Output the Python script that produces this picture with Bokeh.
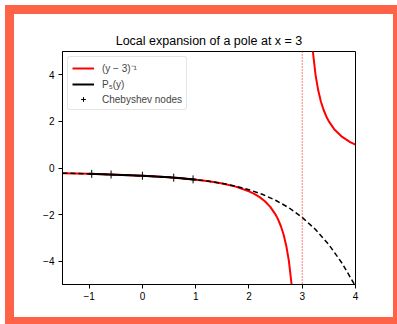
from bokeh.plotting import figure
from bokeh.models import Range1d, FixedTicker, Span, Legend, LegendItem
from bokeh.embed import file_html
from bokeh.resources import INLINE

# ---- data ----
pole_left_x = [-1.5, -1.0, -0.5, 0.0, 0.5, 1.0, 1.25, 1.5, 1.75, 2.0, 2.1, 2.2, 2.3, 2.4, 2.5,
               2.55, 2.6, 2.65, 2.7, 2.75, 2.8, 2.85]
pole_left_y = [-0.222, -0.25, -0.286, -0.333, -0.4, -0.5, -0.571, -0.667, -0.8, -1.0, -1.111,
               -1.25, -1.429, -1.667, -2.0, -2.222, -2.5, -2.857, -3.333, -4.0, -5.0, -6.667]
pole_right_x = [3.15, 3.2, 3.25, 3.3, 3.35, 3.4, 3.45, 3.5, 3.6, 3.75, 3.9, 4.0]
pole_right_y = [6.667, 5.0, 4.0, 3.333, 2.857, 2.5, 2.222, 2.0, 1.667, 1.333, 1.111, 1.0]

poly_ext_x = [-1.5, -1.25, -1.0, -0.5, 0.0, 0.5, 1.0, 1.25, 1.5, 1.75, 2.0, 2.25, 2.5, 2.75,
              3.0, 3.25, 3.5, 3.75, 4.0]
poly_ext_y = [-0.220, -0.235, -0.25, -0.286, -0.333, -0.4, -0.5, -0.571, -0.661, -0.779, -0.931,
              -1.129, -1.383, -1.708, -2.121, -2.641, -3.290, -4.092, -5.075]

poly_in_x = [-1.0, -0.75, -0.5, -0.25, 0.0, 0.25, 0.5, 0.75, 1.0]
poly_in_y = [-0.25, -0.267, -0.286, -0.308, -0.333, -0.364, -0.4, -0.444, -0.5]

node_x = [-0.951, -0.588, 0.0, 0.588, 0.951]
node_y = [-0.253, -0.279, -0.333, -0.415, -0.488]

pole_at = 3
x_ticks = [-1, 0, 1, 2, 3, 4]
y_ticks = [-4, -2, 0, 2, 4]

FONT = "Liberation Sans"
FRAME = "#ff6347"

p = figure(width=397, height=324, x_range=Range1d(-1.5, 4), y_range=Range1d(-5, 5),
           output_backend="svg", toolbar_location=None,
           min_border_left=62, min_border_right=42, min_border_top=51, min_border_bottom=40,
           title="Local expansion of a pole at x = 3")
p.border_fill_color = None
p.background_fill_color = "white"
p.outline_line_color = "black"
p.outline_line_width = 1
p.grid.visible = False
p.styles = {"box-shadow": f"inset 5px 5px 0 0 #ffffff, inset 14px 14px 0 0 {FRAME}, "
                          f"inset -4px -7px 0 0 {FRAME}"}

p.title.text_font = FONT
p.title.text_font_size = "12.5px"
p.title.text_font_style = "normal"
p.title.align = "center"
p.title.text_color = "black"
p.title.standoff = 7

for ax, ticks in ((p.xaxis, x_ticks), (p.yaxis, y_ticks)):
    ax.ticker = FixedTicker(ticks=ticks)
    ax.major_label_overrides = {t: ("\u2212" + str(abs(t)) if t < 0 else str(t)) for t in ticks}
    ax.major_tick_out = 4
    ax.major_tick_in = 0
    ax.minor_tick_out = 0
    ax.minor_tick_in = 0
    ax.axis_line_color = "black"
    ax.major_tick_line_color = "black"
    ax.major_label_text_font = FONT
    ax.major_label_text_font_size = "10px"
    ax.major_label_text_color = "black"
p.xaxis.major_label_standoff = 3
p.yaxis.major_label_standoff = 4

r_left = p.line(pole_left_x, pole_left_y, line_color="red", line_width=2)
p.line(pole_right_x, pole_right_y, line_color="red", line_width=2)
p.line(poly_ext_x, poly_ext_y, line_color="black", line_width=1.5, line_dash="5 3")
r_poly = p.line(poly_in_x, poly_in_y, line_color="black", line_width=2)
r_nodes = p.scatter(node_x, node_y, marker="cross", size=8, line_color="black", line_width=1)

p.add_layout(Span(location=pole_at, dimension="height", line_color="red", line_alpha=1.0,
                  line_width=1, line_dash="1 2"))

legend = Legend(items=[
    LegendItem(label="(y \u2212 3)\u207b\u00b9", renderers=[r_left]),
    LegendItem(label="P\u2085(y)", renderers=[r_poly]),
    LegendItem(label="Chebyshev nodes", renderers=[r_nodes]),
], location="top_left")
legend.margin = 5
legend.padding = 4
legend.spacing = 3
legend.glyph_width = 22
legend.glyph_height = 12
legend.label_height = 12
legend.label_standoff = 8
legend.label_text_font = FONT
legend.label_text_font_size = "10px"
legend.border_line_color = "#cccccc"
legend.border_line_width = 1
legend.background_fill_alpha = 0.8
if "border_radius" in Legend.properties():
    legend.border_radius = 3
p.add_layout(legend)

open("out.html", "w").write(file_html(p, INLINE))
